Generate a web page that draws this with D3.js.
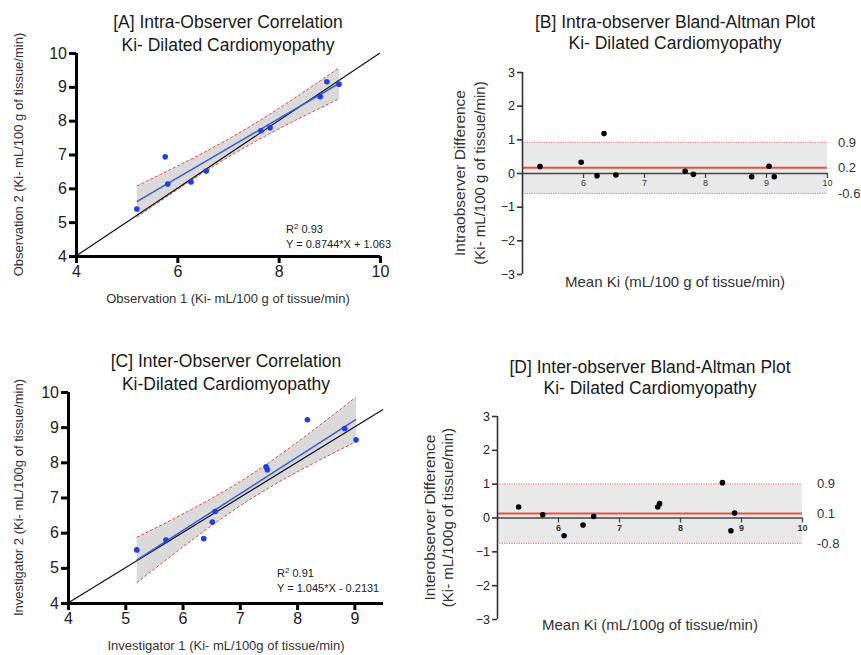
<!DOCTYPE html>
<html><head><meta charset="utf-8">
<script src="https://cdn.jsdelivr.net/npm/d3@7/dist/d3.min.js"></script>
<style>
body{margin:0;background:#fff;}
text{font-family:'Liberation Sans',Arial,Helvetica,sans-serif;}
</style>
</head><body>
<svg id="chart" width="861" height="655"></svg>
<script>
// ---------- Data ----------
// [A] intra-observer: observation 1 vs observation 2
const intraObs1 = [5.20, 5.76, 5.81, 6.27, 6.57, 7.65, 7.83, 8.82, 8.95, 9.19];
const intraObs2 = [5.39, 6.93, 6.13, 6.19, 6.51, 7.70, 7.79, 8.71, 9.15, 9.08];
const intraSlope = 0.8744, intraIntercept = 1.063;
const intraStats = ["0.93", "Y = 0.8744*X + 1.063"];
const intraBALabels = ["0.9", "0.2", "-0.6"];

// [C] inter-observer: investigator 1 vs investigator 2
const interInv1 = [5.20, 5.71, 6.37, 6.52, 6.57, 7.46, 7.48, 8.18, 8.83, 9.03];
const interInv2 = [5.51, 5.79, 5.83, 6.30, 6.60, 7.87, 7.79, 9.21, 8.96, 8.64];
const interSlope = 1.045, interIntercept = -0.2131;
const interStats = ["0.91", "Y = 1.045*X - 0.2131"];
const interBALabels = ["0.9", "0.1", "-0.8"];

// Axis ticks
const ticksA_x = [4, 6, 8, 10], ticksA_y = [4, 5, 6, 7, 8, 9, 10];
const ticksC_x = [4, 5, 6, 7, 8, 9], ticksC_y = [4, 5, 6, 7, 8, 9, 10];
const ticksBA_x = [6, 7, 8, 9, 10], ticksBA_y = [-3, -2, -1, 0, 1, 2, 3];

const svg = d3.select("#chart");
const fmt = d3.format("d");

function addText(x, y, txt, size, opts = {}) {
  const t = svg.append("text").attr("x", x).attr("y", y)
    .attr("font-size", size).attr("fill", opts.fill || "#222")
    .attr("text-anchor", opts.anchor || "middle").text(txt);
  if (opts.rotate) t.attr("transform", `rotate(-90,${x},${y})`);
  return t;
}

function styleAxis(g, width, fs, color) {
  g.select(".domain").style("stroke", color).style("stroke-width", width + "px");
  g.selectAll(".tick line").style("stroke", color).style("stroke-width", width + "px");
  g.selectAll(".tick text").style("font-size", fs + "px").style("fill", "#222");
}

// ---------- Correlation panel ----------
function corrPanel(o) {
  const x = d3.scaleLinear().domain(o.xDom).range(o.xRange);
  const y = d3.scaleLinear().domain(o.yDom).range(o.yRange);
  const xs = o.xData, ys = o.yData, n = xs.length;
  const fit = v => o.slope * v + o.intercept;
  const xMean = d3.mean(xs);
  const sxx = d3.sum(xs, v => (v - xMean) ** 2);
  const sres = Math.sqrt(d3.sum(xs, (v, i) => (ys[i] - fit(v)) ** 2) / (n - 2));
  const tCrit = 2.306; // t(0.975, df=8)
  const half = v => tCrit * sres * Math.sqrt(1 / n + (v - xMean) ** 2 / sxx);
  const [x0, x1] = d3.extent(xs);
  const samples = d3.range(0, 61).map(i => x0 + (x1 - x0) * i / 60);

  svg.append("path").datum(samples)
    .attr("d", d3.area().x(d => x(d)).y0(d => y(fit(d) - half(d))).y1(d => y(fit(d) + half(d))))
    .attr("fill", "#d6d6d6").attr("opacity", 0.9);
  [1, -1].forEach(s => {
    svg.append("path").datum(samples)
      .attr("d", d3.line().x(d => x(d)).y(d => y(fit(d) + s * half(d))))
      .attr("fill", "none").attr("stroke", "#e0463c").attr("stroke-width", 1)
      .attr("stroke-dasharray", "3,2");
  });
  // identity line
  svg.append("line")
    .attr("x1", x(o.xDom[0])).attr("y1", y(o.xDom[0]))
    .attr("x2", x(o.xDom[1])).attr("y2", y(o.xDom[1]))
    .attr("stroke", "#111").attr("stroke-width", 1.2);
  // regression line
  svg.append("line")
    .attr("x1", x(x0)).attr("y1", y(fit(x0)))
    .attr("x2", x(x1)).attr("y2", y(fit(x1)))
    .attr("stroke", "#3a5ae0").attr("stroke-width", 1.5);
  // points
  svg.selectAll(null).data(xs).enter().append("circle")
    .attr("cx", d => x(d)).attr("cy", (d, i) => y(ys[i])).attr("r", 2.8)
    .attr("fill", "#1f3ee8");

  const gx = svg.append("g").attr("transform", `translate(0,${o.yRange[0]})`)
    .call(d3.axisBottom(x).tickValues(o.xTicks).tickFormat(fmt).tickSize(7).tickSizeOuter(0).tickPadding(3));
  gx.select(".domain").attr("d", `M${o.xRange[0] - 1.5},0.5H${o.xRange[1]}`);
  styleAxis(gx, 3, 16, "#000");
  const gy = svg.append("g").attr("transform", `translate(${o.xRange[0]},0)`)
    .call(d3.axisLeft(y).tickValues(o.yTicks).tickFormat(fmt).tickSize(7).tickSizeOuter(0).tickPadding(2));
  gy.select(".domain").attr("d", `M0.5,${o.yRange[0] + 1.5}V${o.yRange[1]}`);
  styleAxis(gy, 3, 16, "#000");

  // stats text
  const r2 = svg.append("text").attr("x", o.statX).attr("y", o.statY)
    .attr("font-size", 11).attr("fill", "#222");
  r2.append("tspan").text("R");
  r2.append("tspan").attr("dy", -4).attr("font-size", 8).text("2");
  r2.append("tspan").attr("dy", 4).text(" " + o.stats[0]);
  addText(o.statX, o.statY + 15, o.stats[1], 11, { anchor: "start" });

  addText(o.titleX, o.titleY, o.title[0], 17.5, { fill: "#1a1a1a" });
  addText(o.titleX, o.titleY + 23, o.title[1], 17.5, { fill: "#1a1a1a" });
  addText(o.titleX, o.xLabelY, o.xLabel, 13, { fill: "#333" });
  addText(o.yLabelX, (o.yRange[0] + o.yRange[1]) / 2, o.yLabel, 13, { fill: "#333", rotate: true });
}

// ---------- Bland-Altman panel ----------
function baPanel(o) {
  const x = d3.scaleLinear().domain([5, 10]).range(o.xRange);
  const y = d3.scaleLinear().domain([-3, 3]).range(o.yRange);
  const means = o.a.map((v, i) => (v + o.b[i]) / 2);
  const diffs = o.a.map((v, i) => o.b[i] - v);
  const bias = d3.mean(diffs), sd = d3.deviation(diffs);
  const upper = bias + 1.96 * sd, lower = bias - 1.96 * sd;

  svg.append("rect").attr("x", o.xRange[0]).attr("y", y(upper))
    .attr("width", o.xRange[1] - o.xRange[0]).attr("height", y(lower) - y(upper))
    .attr("fill", "#e9e9e9");
  [upper, lower].forEach(v => svg.append("line")
    .attr("x1", o.xRange[0]).attr("x2", o.xRange[1]).attr("y1", y(v)).attr("y2", y(v))
    .attr("stroke", "#e07070").attr("stroke-width", 1).attr("stroke-dasharray", "1.2,1.2"));

  const gx = svg.append("g").attr("transform", `translate(0,${y(0)})`)
    .call(d3.axisBottom(x).tickValues(ticksBA_x).tickFormat(fmt).tickSize(5).tickSizeOuter(0).tickPadding(2));
  gx.select(".domain").attr("d", `M${o.xRange[0]},0.5H${o.xRange[1]}`);
  styleAxis(gx, 1.3, 9, "#444");
  gx.selectAll(".tick text").style("font-weight", o.boldX ? "bold" : "normal").style("fill", "#333");

  svg.append("line").attr("x1", o.xRange[0]).attr("x2", o.xRange[1])
    .attr("y1", y(bias)).attr("y2", y(bias))
    .attr("stroke", "#e8553e").attr("stroke-width", 2);

  const gy = svg.append("g").attr("transform", `translate(${o.xRange[0]},0)`)
    .call(d3.axisLeft(y).tickValues(ticksBA_y).tickFormat(fmt).tickSize(5).tickSizeOuter(0).tickPadding(2));
  gy.select(".domain").attr("d", `M0.5,${o.yRange[0]}V${o.yRange[1]}`);
  styleAxis(gy, 1.6, 12.5, "#333");

  svg.selectAll(null).data(means).enter().append("circle")
    .attr("cx", d => x(d)).attr("cy", (d, i) => y(diffs[i])).attr("r", 2.8)
    .attr("fill", "#000");

  [upper, bias, lower].forEach((v, i) =>
    addText(o.labX, y(v) + 4.5, o.limLabels[i], 13, { anchor: "start", fill: "#333" }));

  addText(o.titleX, o.titleY, o.title[0], 17.5, { fill: "#1a1a1a" });
  addText(o.titleX, o.titleY + 21, o.title[1], 17.5, { fill: "#1a1a1a" });
  addText(o.titleX, o.xLabelY, o.xLabel, 15, { fill: "#333" });
  const cy = (o.yRange[0] + o.yRange[1]) / 2;
  addText(o.yLabX[0], cy, o.yLabel[0], 15.5, { fill: "#333", rotate: true });
  addText(o.yLabX[1], cy, o.yLabel[1], 15, { fill: "#333", rotate: true });
}

corrPanel({
  xData: intraObs1, yData: intraObs2, slope: intraSlope, intercept: intraIntercept,
  xDom: [4, 10], yDom: [4, 10], xRange: [76, 380], yRange: [256, 53],
  xTicks: ticksA_x, yTicks: ticksA_y, stats: intraStats, statX: 286, statY: 233,
  title: ["[A] Intra-Observer Correlation", "Ki- Dilated Cardiomyopathy"], titleX: 228, titleY: 28,
  xLabel: "Observation 1 (Ki- mL/100 g of tissue/min)", xLabelY: 303,
  yLabel: "Observation 2 (Ki- mL/100 g of tissue/min)", yLabelX: 23
});

corrPanel({
  xData: interInv1, yData: interInv2, slope: interSlope, intercept: interIntercept,
  xDom: [4, 9.5], yDom: [4, 10], xRange: [68, 383], yRange: [603, 392],
  xTicks: ticksC_x, yTicks: ticksC_y, stats: interStats, statX: 277, statY: 577,
  title: ["[C] Inter-Observer Correlation", "Ki-Dilated Cardiomyopathy"], titleX: 226, titleY: 367,
  xLabel: "Investigator 1 (Ki- mL/100g of tissue/min)", xLabelY: 650,
  yLabel: "Investigator 2 (Ki- mL/100g of tissue/min)", yLabelX: 23
});

baPanel({
  a: intraObs1, b: intraObs2, xRange: [522, 827], yRange: [274, 72],
  limLabels: intraBALabels, labX: 838, boldX: false,
  title: ["[B] Intra-observer Bland-Altman Plot", "Ki- Dilated Cardiomyopathy"], titleX: 675, titleY: 28,
  xLabel: "Mean Ki (mL/100 g of tissue/min)", xLabelY: 287,
  yLabel: ["Intraobserver Difference", "(Ki- mL/100 g of tissue/min)"], yLabX: [465, 485]
});

baPanel({
  a: interInv1, b: interInv2, xRange: [497, 802], yRange: [619, 416],
  limLabels: interBALabels, labX: 817, boldX: true,
  title: ["[D] Inter-observer Bland-Altman Plot", "Ki- Dilated Cardiomyopathy"], titleX: 650, titleY: 373,
  xLabel: "Mean Ki (mL/100g of tissue/min)", xLabelY: 630,
  yLabel: ["Interobserver Difference", "(Ki- mL/100g of tissue/min)"], yLabX: [435, 453]
});
</script>
</body></html>
